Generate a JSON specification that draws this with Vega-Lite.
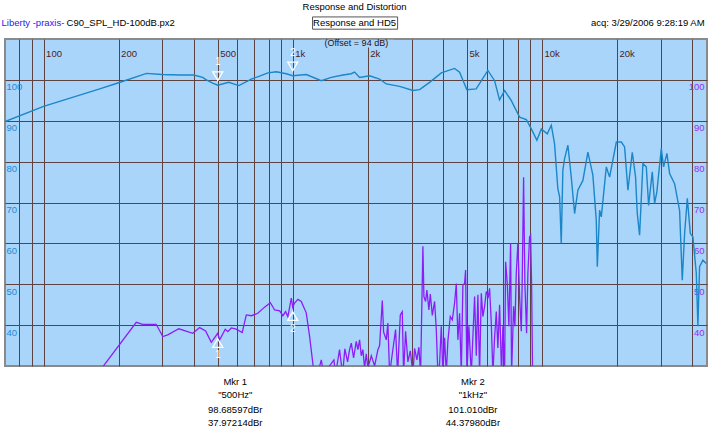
{
  "$schema": "https://vega.github.io/schema/vega-lite/v6.json",
  "width": 702,
  "height": 327,
  "autosize": "none",
  "padding": {"left": 5, "top": 39, "right": 2, "bottom": 74},
  "background": "white",
  "config": {
    "view": {"fill": "#aad5fb", "stroke": "#8a8a8a", "strokeWidth": 2},
    "font": "Liberation Sans",
    "text": {"font": "Liberation Sans"}
  },
  "datasets": {
    "resp": [
      {"f": 70, "db": 89.8}, {"f": 100, "db": 93.5}, {"f": 168, "db": 97.8}, {"f": 200, "db": 99.3},
      {"f": 259, "db": 101.6}, {"f": 298, "db": 101.3}, {"f": 351, "db": 101.2}, {"f": 400, "db": 101.2},
      {"f": 435, "db": 100.6}, {"f": 450, "db": 100.0}, {"f": 477, "db": 99.2}, {"f": 500, "db": 98.7},
      {"f": 553, "db": 99.4}, {"f": 608, "db": 98.6}, {"f": 682, "db": 100.2}, {"f": 736, "db": 100.9},
      {"f": 795, "db": 101.7}, {"f": 859, "db": 102.0}, {"f": 942, "db": 101.5}, {"f": 1000, "db": 101.0},
      {"f": 1134, "db": 101.3}, {"f": 1302, "db": 99.8}, {"f": 1428, "db": 100.6}, {"f": 1590, "db": 101.2},
      {"f": 1718, "db": 101.5}, {"f": 1771, "db": 101.9}, {"f": 1855, "db": 100.6}, {"f": 2035, "db": 101.0},
      {"f": 2230, "db": 100.2}, {"f": 2374, "db": 99.0}, {"f": 2685, "db": 98.4}, {"f": 3036, "db": 97.4},
      {"f": 3230, "db": 97.6}, {"f": 3543, "db": 99.4}, {"f": 3947, "db": 101.7}, {"f": 4460, "db": 102.8},
      {"f": 4675, "db": 101.9}, {"f": 5000, "db": 97.6}, {"f": 5450, "db": 97.8}, {"f": 6070, "db": 102.3},
      {"f": 6460, "db": 99.8}, {"f": 6760, "db": 95.1}, {"f": 7090, "db": 97.4}, {"f": 7540, "db": 94.9},
      {"f": 8140, "db": 90.9}, {"f": 8660, "db": 90.3}, {"f": 9070, "db": 88.0}, {"f": 9550, "db": 85.2},
      {"f": 9950, "db": 88.0}, {"f": 10510, "db": 86.8}, {"f": 10910, "db": 88.9}, {"f": 11240, "db": 84.4},
      {"f": 11590, "db": 73.4}, {"f": 11780, "db": 71.4}, {"f": 11960, "db": 60.0}, {"f": 12140, "db": 77.9},
      {"f": 12330, "db": 80.7}, {"f": 12720, "db": 84.0}, {"f": 13120, "db": 76.2}, {"f": 13530, "db": 67.3},
      {"f": 13950, "db": 73.0}, {"f": 14610, "db": 75.4}, {"f": 15300, "db": 82.3}, {"f": 16020, "db": 76.7},
      {"f": 16530, "db": 65.7}, {"f": 16690, "db": 54.3}, {"f": 17050, "db": 68.1}, {"f": 17320, "db": 66.5},
      {"f": 18140, "db": 78.7}, {"f": 18700, "db": 76.2}, {"f": 19900, "db": 84.8}, {"f": 20840, "db": 84.8},
      {"f": 21480, "db": 83.6}, {"f": 22150, "db": 73.0}, {"f": 23060, "db": 82.3}, {"f": 23770, "db": 76.2},
      {"f": 24150, "db": 67.3}, {"f": 24670, "db": 62.0}, {"f": 25440, "db": 79.5}, {"f": 26250, "db": 78.7},
      {"f": 26820, "db": 69.3}, {"f": 27740, "db": 77.5}, {"f": 28340, "db": 69.8}, {"f": 28940, "db": 72.6},
      {"f": 30150, "db": 83.2}, {"f": 30800, "db": 78.7}, {"f": 31760, "db": 82.0}, {"f": 32560, "db": 77.1},
      {"f": 34090, "db": 74.6}, {"f": 35700, "db": 68.1}, {"f": 36600, "db": 51.0}, {"f": 37400, "db": 62.4},
      {"f": 38350, "db": 71.0}, {"f": 39430, "db": 62.4}, {"f": 40370, "db": 61.6}, {"f": 41670, "db": 52.7},
      {"f": 42290, "db": 39.7}, {"f": 42950, "db": 54.3}, {"f": 44290, "db": 55.9}, {"f": 45700, "db": 55.1}
    ],
    "hd5": [
      {"f": 169, "db": 29}, {"f": 235.5, "db": 40.7}, {"f": 250, "db": 40.2}, {"f": 283, "db": 40.2},
      {"f": 301, "db": 37.2}, {"f": 315, "db": 37.6}, {"f": 349, "db": 39.1}, {"f": 397, "db": 38.0},
      {"f": 423, "db": 39.4}, {"f": 447, "db": 38.6}, {"f": 471, "db": 35.8}, {"f": 500, "db": 38.0},
      {"f": 509, "db": 36.4}, {"f": 536, "db": 39.0}, {"f": 549, "db": 38.4}, {"f": 567, "db": 39.3},
      {"f": 593, "db": 39.0}, {"f": 627, "db": 38.2}, {"f": 651, "db": 42.5}, {"f": 682, "db": 42.3},
      {"f": 724, "db": 42.9}, {"f": 771, "db": 44.4}, {"f": 813, "db": 45.5}, {"f": 846, "db": 43.7},
      {"f": 886, "db": 43.5}, {"f": 913, "db": 42.3}, {"f": 936, "db": 43.3}, {"f": 956, "db": 42.1},
      {"f": 987, "db": 46.6}, {"f": 1000, "db": 44.4}, {"f": 1017, "db": 45.4}, {"f": 1049, "db": 46.3},
      {"f": 1082, "db": 45.8}, {"f": 1133, "db": 43.0}, {"f": 1169, "db": 37.2}, {"f": 1213, "db": 29},
      {"f": 1258, "db": 28}, {"f": 1302, "db": 31.5}, {"f": 1330, "db": 28}, {"f": 1463, "db": 31.5},
      {"f": 1486, "db": 28}, {"f": 1541, "db": 34.0}, {"f": 1585, "db": 28}, {"f": 1619, "db": 34.2},
      {"f": 1660, "db": 31}, {"f": 1691, "db": 34}, {"f": 1718, "db": 35.6}, {"f": 1755, "db": 32},
      {"f": 1799, "db": 36.0}, {"f": 1826, "db": 34}, {"f": 1855, "db": 36.4}, {"f": 1884, "db": 32.5},
      {"f": 1912, "db": 34}, {"f": 1943, "db": 29.5}, {"f": 1973, "db": 33}, {"f": 2003, "db": 29.5},
      {"f": 2035, "db": 31}, {"f": 2067, "db": 32.5}, {"f": 2131, "db": 30}, {"f": 2197, "db": 34},
      {"f": 2232, "db": 35}, {"f": 2288, "db": 46.0}, {"f": 2316, "db": 38.3}, {"f": 2374, "db": 36.4},
      {"f": 2409, "db": 40.5}, {"f": 2448, "db": 28}, {"f": 2510, "db": 33}, {"f": 2587, "db": 38.9},
      {"f": 2636, "db": 28}, {"f": 2702, "db": 42.5}, {"f": 2752, "db": 43.3}, {"f": 2786, "db": 28},
      {"f": 2838, "db": 38.5}, {"f": 2899, "db": 31}, {"f": 2964, "db": 33.7}, {"f": 3036, "db": 28},
      {"f": 3084, "db": 34.3}, {"f": 3150, "db": 31.5}, {"f": 3209, "db": 34.6}, {"f": 3260, "db": 28},
      {"f": 3330, "db": 59.3}, {"f": 3361, "db": 47.0}, {"f": 3414, "db": 45.8}, {"f": 3455, "db": 48.6},
      {"f": 3520, "db": 43.7}, {"f": 3566, "db": 47.6}, {"f": 3632, "db": 42.4}, {"f": 3710, "db": 45.8},
      {"f": 3769, "db": 38.9}, {"f": 3825, "db": 28}, {"f": 3885, "db": 30.5}, {"f": 3947, "db": 39.7},
      {"f": 4006, "db": 28}, {"f": 4069, "db": 36.9}, {"f": 4134, "db": 28}, {"f": 4195, "db": 36.1},
      {"f": 4289, "db": 42.1}, {"f": 4370, "db": 41.3}, {"f": 4463, "db": 45.4}, {"f": 4534, "db": 50.2},
      {"f": 4602, "db": 36.4}, {"f": 4674, "db": 42.9}, {"f": 4748, "db": 28}, {"f": 4819, "db": 49.8},
      {"f": 4895, "db": 50.2}, {"f": 4941, "db": 53.5}, {"f": 5001, "db": 28}, {"f": 5094, "db": 39.7},
      {"f": 5208, "db": 28}, {"f": 5370, "db": 47.0}, {"f": 5455, "db": 32.5}, {"f": 5536, "db": 47.4},
      {"f": 5623, "db": 28}, {"f": 5712, "db": 47.8}, {"f": 5797, "db": 42.1}, {"f": 5889, "db": 44.6},
      {"f": 5982, "db": 48.2}, {"f": 6094, "db": 47.0}, {"f": 6168, "db": 49.0}, {"f": 6265, "db": 40.5},
      {"f": 6359, "db": 28}, {"f": 6459, "db": 36.9}, {"f": 6562, "db": 43.3}, {"f": 6659, "db": 34.4},
      {"f": 6765, "db": 45.0}, {"f": 6891, "db": 28}, {"f": 6974, "db": 39.7}, {"f": 7085, "db": 28},
      {"f": 7151, "db": 55.5}, {"f": 7264, "db": 50.2}, {"f": 7372, "db": 39.7}, {"f": 7489, "db": 60.1},
      {"f": 7558, "db": 28}, {"f": 7699, "db": 44.6}, {"f": 7793, "db": 39.7}, {"f": 7894, "db": 52.7},
      {"f": 8011, "db": 60.0}, {"f": 8138, "db": 47.0}, {"f": 8268, "db": 38.5}, {"f": 8344, "db": 51.8},
      {"f": 8445, "db": 76.2}, {"f": 8547, "db": 50.2}, {"f": 8682, "db": 38}, {"f": 8787, "db": 52.7},
      {"f": 8926, "db": 61.6}, {"f": 9009, "db": 62.0}, {"f": 9093, "db": 50}, {"f": 9178, "db": 28}
    ],
    "markers": [
      {"f": 500, "db": 100.9, "shp": "triangle-down", "num": "1", "ldb": 104.4},
      {"f": 1000, "db": 103.3, "shp": "triangle-down", "num": "2", "ldb": 106.6},
      {"f": 500, "db": 35.6, "shp": "triangle-up", "num": "1", "ldb": 32.7},
      {"f": 1000, "db": 42.2, "shp": "triangle-up", "num": "2", "ldb": 39.1}
    ],
    "notesLeft": [
      {"f": 67.8, "db": 114.0, "txt": "Liberty -praxis-", "col": "#2323f5"},
      {"f": 123.7, "db": 114.0, "txt": "C90_SPL_HD-100dB.px2", "col": "#000000"}
    ],
    "notesCenter": [
      {"f": 1771, "db": 117.9, "txt": "Response and Distortion", "col": "#000000"},
      {"f": 1771, "db": 113.9, "txt": "Response and HD5", "col": "#000000"},
      {"f": 588, "db": 26.1, "txt": "Mkr 1", "col": "#000000"},
      {"f": 588, "db": 22.9, "txt": "\"500Hz\"", "col": "#000000"},
      {"f": 588, "db": 19.2, "txt": "98.68597dBr", "col": "#000000"},
      {"f": 588, "db": 16.1, "txt": "37.97214dBr", "col": "#000000"},
      {"f": 5286, "db": 26.1, "txt": "Mkr 2", "col": "#000000"},
      {"f": 5286, "db": 22.9, "txt": "\"1kHz\"", "col": "#000000"},
      {"f": 5286, "db": 19.2, "txt": "101.010dBr", "col": "#000000"},
      {"f": 5286, "db": 16.1, "txt": "44.37980dBr", "col": "#000000"}
    ],
    "notesRight": [
      {"f": 44980, "db": 114.0, "txt": "acq: 3/29/2006 9:28:19 AM", "col": "#000000"}
    ],
    "offsetNote": [
      {"f": 1800, "db": 109.1, "txt": "(Offset = 94 dB)"}
    ],
    "offsetBg": [
      {"f": 1293, "f2": 2540, "db": 109.8, "db2": 107.9}
    ],
    "box": [
      {"f": 1201, "f2": 2636, "db": 115.4, "db2": 112.4}
    ]
  },
  "resolve": {"axis": {"x": "independent", "y": "independent"}},
  "layer": [
    {
      "data": {"name": "resp"},
      "mark": {"type": "line", "color": "#1b86c8", "strokeWidth": 1.4, "clip": true},
      "encoding": {
        "x": {
          "field": "f", "type": "quantitative",
          "scale": {"type": "log", "domain": [70, 46000], "nice": false},
          "axis": {
            "orient": "top", "title": null, "zindex": 0,
            "values": [80, 90, 100, 200, 300, 400, 500, 600, 700, 800, 900, 1000, 2000, 3000, 4000, 5000, 6000, 7000, 8000, 9000, 10000, 20000, 30000, 40000],
            "labelExpr": "indexof([100,200,500], datum.value) >= 0 ? '' + datum.value : (indexof([1000,2000,5000,10000,20000], datum.value) >= 0 ? (datum.value/1000) + 'k' : '')",
            "grid": true, "gridColor": "#5e4242", "gridOpacity": 1, "gridWidth": 1,
            "domain": false, "ticks": false, "tickSize": 0,
            "labelAlign": "left", "labelBaseline": "middle", "labelPadding": -14, "labelOffset": 2,
            "labelColor": "#4a1c1c", "labelFont": "Liberation Sans", "labelFontSize": 9.5,
            "labelFlush": false, "labelOverlap": false, "labelBound": false
          }
        },
        "y": {
          "field": "db", "type": "quantitative",
          "scale": {"domain": [30, 110], "nice": false, "zero": false},
          "axis": {
            "orient": "left", "title": null, "zindex": 0,
            "values": [40, 50, 60, 70, 80, 90, 100],
            "grid": true, "gridColor": "#5e4242", "gridOpacity": 1, "gridWidth": 1,
            "domain": false, "ticks": false, "tickSize": 0,
            "labelAlign": "left", "labelBaseline": "top", "labelPadding": -1, "labelOffset": 2,
            "labelColor": "#1f8ad4", "labelFont": "Liberation Sans", "labelFontSize": 9.5,
            "labelFlush": false, "labelOverlap": false, "labelBound": false
          }
        }
      }
    },
    {
      "data": {"name": "hd5"},
      "mark": {"type": "line", "color": "#8c1ef5", "strokeWidth": 1.3, "clip": true},
      "encoding": {
        "x": {"field": "f", "type": "quantitative", "axis": null},
        "y": {
          "field": "db", "type": "quantitative",
          "axis": {
            "orient": "right", "title": null, "zindex": 0,
            "values": [40, 50, 60, 70, 80, 90, 100],
            "grid": false, "domain": false, "ticks": false, "tickSize": 0,
            "labelAlign": "right", "labelBaseline": "top", "labelPadding": -3, "labelOffset": 2,
            "labelColor": "#9b2cf5", "labelFont": "Liberation Sans", "labelFontSize": 9.5,
            "labelFlush": false, "labelOverlap": false, "labelBound": false
          }
        }
      }
    },
    {
      "data": {"name": "markers"},
      "mark": {"type": "point", "filled": false, "stroke": "white", "strokeWidth": 1.3, "size": 100, "opacity": 1},
      "encoding": {
        "x": {"field": "f", "type": "quantitative", "axis": null},
        "y": {"field": "db", "type": "quantitative", "axis": null},
        "shape": {"field": "shp", "type": "nominal", "scale": null}
      }
    },
    {
      "data": {"name": "markers"},
      "mark": {"type": "text", "color": "white", "fontSize": 10, "baseline": "middle", "align": "center"},
      "encoding": {
        "x": {"field": "f", "type": "quantitative", "axis": null},
        "y": {"field": "ldb", "type": "quantitative", "axis": null},
        "text": {"field": "num"}
      }
    },
    {
      "data": {"name": "box"},
      "mark": {"type": "rect", "fill": "white", "stroke": "#555555", "strokeWidth": 1},
      "encoding": {
        "x": {"field": "f", "type": "quantitative", "axis": null},
        "x2": {"field": "f2"},
        "y": {"field": "db", "type": "quantitative", "axis": null},
        "y2": {"field": "db2"}
      }
    },
    {
      "data": {"name": "offsetBg"},
      "mark": {"type": "rect", "fill": "#aad5fb", "strokeWidth": 0},
      "encoding": {
        "x": {"field": "f", "type": "quantitative", "axis": null},
        "x2": {"field": "f2"},
        "y": {"field": "db", "type": "quantitative", "axis": null},
        "y2": {"field": "db2"}
      }
    },
    {
      "data": {"name": "notesLeft"},
      "mark": {"type": "text", "align": "left", "baseline": "middle", "fontSize": 9.5},
      "encoding": {
        "x": {"field": "f", "type": "quantitative", "axis": null},
        "y": {"field": "db", "type": "quantitative", "axis": null},
        "text": {"field": "txt"},
        "color": {"field": "col", "type": "nominal", "scale": null}
      }
    },
    {
      "data": {"name": "notesCenter"},
      "mark": {"type": "text", "align": "center", "baseline": "middle", "fontSize": 9.5},
      "encoding": {
        "x": {"field": "f", "type": "quantitative", "axis": null},
        "y": {"field": "db", "type": "quantitative", "axis": null},
        "text": {"field": "txt"},
        "color": {"field": "col", "type": "nominal", "scale": null}
      }
    },
    {
      "data": {"name": "notesRight"},
      "mark": {"type": "text", "align": "right", "baseline": "middle", "fontSize": 9.5},
      "encoding": {
        "x": {"field": "f", "type": "quantitative", "axis": null},
        "y": {"field": "db", "type": "quantitative", "axis": null},
        "text": {"field": "txt"},
        "color": {"field": "col", "type": "nominal", "scale": null}
      }
    },
    {
      "data": {"name": "offsetNote"},
      "mark": {"type": "text", "align": "center", "baseline": "middle", "fontSize": 9, "color": "#2a1010"},
      "encoding": {
        "x": {"field": "f", "type": "quantitative", "axis": null},
        "y": {"field": "db", "type": "quantitative", "axis": null},
        "text": {"field": "txt"}
      }
    }
  ]
}
